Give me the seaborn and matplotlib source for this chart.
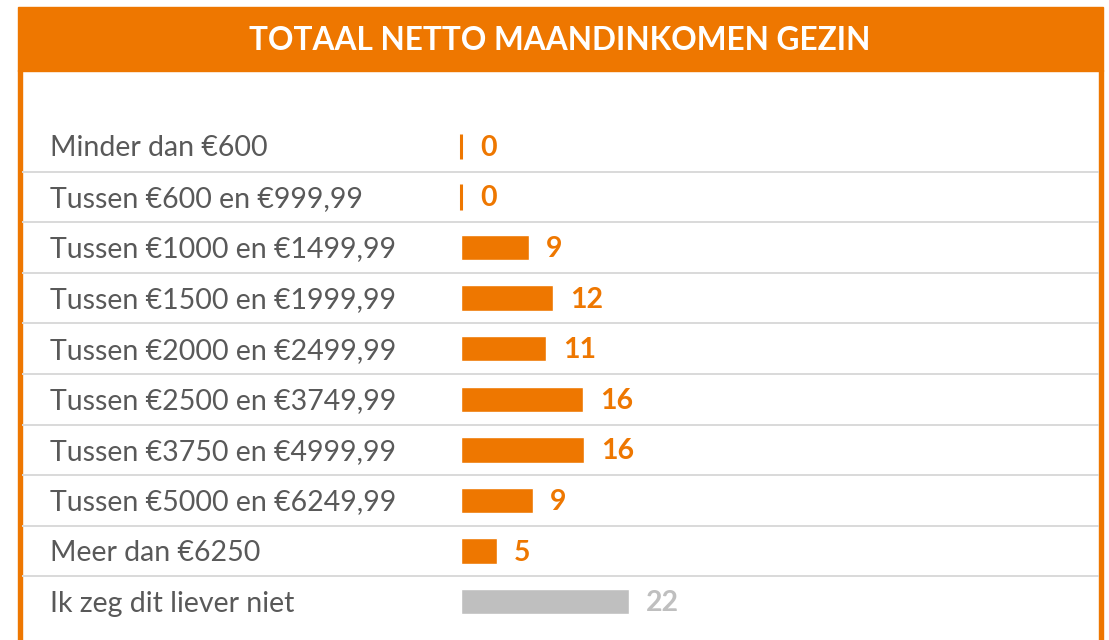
import matplotlib
matplotlib.use("Agg")
import matplotlib.pyplot as plt
import matplotlib.transforms as mtransforms
from matplotlib.patches import Rectangle
import seaborn as sns

# =============================================
# Data (percentages, labels show rounded values)
categories = ['Minder dan €600', 'Tussen €600 en €999,99', 'Tussen €1000 en €1499,99',
              'Tussen €1500 en €1999,99', 'Tussen €2000 en €2499,99', 'Tussen €2500 en €3749,99',
              'Tussen €3750 en €4999,99', 'Tussen €5000 en €6249,99', 'Meer dan €6250',
              'Ik zeg dit liever niet']
values = [0, 0, 8.85, 12.0, 11.15, 15.9, 16.05, 9.35, 4.65, 21.9]
value_labels = ['0', '0', '9', '12', '11', '16', '16', '9', '5', '22']

orange = '#EE7700'
grey = '#BFBFBF'
bar_colors = [orange] * 9 + [grey]

title = 'TOTAAL NETTO MAANDINKOMEN GEZIN'

# =============================================
sns.set_theme(style="white")
plt.rcParams['font.family'] = ['Lato', 'DejaVu Sans']

W, H = 1109, 640
fig = plt.figure(figsize=(W / 100, H / 100), dpi=100)
fig.patch.set_facecolor('white')

# frame: header bar and side borders
fig.add_artist(Rectangle((17.5 / W, (H - 71) / H), (1103 - 17.5) / W, 64 / H,
                         transform=fig.transFigure, color=orange, zorder=0))
fig.add_artist(Rectangle((17.5 / W, 0), 4 / W, (H - 70) / H,
                         transform=fig.transFigure, color=orange, zorder=0))
fig.add_artist(Rectangle((1099 / W, 0), 4 / W, (H - 70) / H,
                         transform=fig.transFigure, color=orange, zorder=0))
fig.text(560 / W, (H - 40) / H, title, color='white', fontsize=22.8, fontweight='bold',
         ha='center', va='center')

# axes spanning the inner box, bars start at x=461px
left_px, right_px, top_px, bot_px = 21.5, 1099, 121, 627
unit = 7.65  # pixels per percent
ax = fig.add_axes([left_px / W, (H - bot_px) / H, (right_px - left_px) / W, (bot_px - top_px) / H])

sns.barplot(x=values, y=categories, hue=categories, palette=bar_colors, legend=False,
            orient='h', width=0.5, ax=ax, saturation=1)

ax.set_xlim(-(461 - left_px) / unit, (right_px - 461) / unit)
ax.set_ylim(len(categories) - 0.5, -0.5)
ax.axis('off')

# zero bars are drawn as a thin stroke
for p in ax.patches:
    if p.get_width() == 0:
        p.set_edgecolor(orange)
        p.set_linewidth(2.2)

# separators between rows
for k in range(len(categories) - 1):
    ax.axhline(k + 0.5, color='#D9D9D9', linewidth=1.4, zorder=0)

trans = mtransforms.blended_transform_factory(ax.transAxes, ax.transData)
for i, (cat, v, lab, c) in enumerate(zip(categories, values, value_labels, bar_colors)):
    ax.text((50 - left_px) / (right_px - left_px), i + 0.04, cat, transform=trans, color='#595959',
            fontsize=20.5, ha='left', va='center')
    ax.text(v + 17 / unit + (0.3 if v == 0 else 0), i + 0.03, lab, color=c, fontsize=20.5,
            fontweight='bold', ha='left', va='center')

fig.savefig('out.png', dpi=100, facecolor='white')
